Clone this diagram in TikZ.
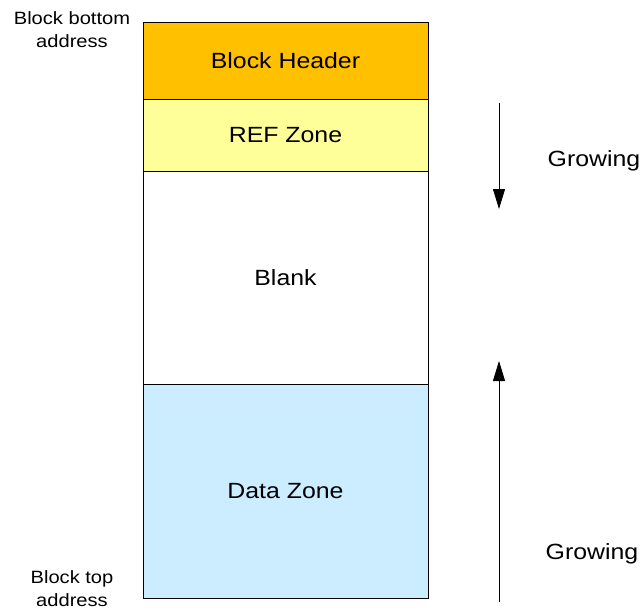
\documentclass[tikz,border=0pt]{standalone}
\usepackage{fontspec}
\setmainfont{Liberation Sans}[FakeStretch=1.13]
\usepackage{tikz}
\usetikzlibrary{positioning,arrows.meta}
\definecolor{hdrorange}{HTML}{FFC000}
\definecolor{refyellow}{HTML}{FFFF99}
\definecolor{datablue}{HTML}{CCECFF}

\begin{document}
\begin{tikzpicture}[x=1pt, y=1pt, line width=0.8pt,
    zone/.style={draw, rectangle, minimum width=285pt, inner sep=0pt, outer sep=0pt, font=\fontsize{22}{26}\selectfont},
    note/.style={align=center, font=\fontsize{17.8}{23}\selectfont},
    growarrow/.style={-{Triangle[length=20pt, width=12pt]}, line width=0.9pt}]
    \useasboundingbox (0,0) rectangle (643,-610);
    \node[zone, fill=hdrorange, minimum height=77pt] (header) at (285.5,-60.5) {Block Header};
    \node[zone, fill=refyellow, minimum height=72pt, below=0pt of header] (ref) {REF Zone};
    \node[zone, fill=white, minimum height=213pt, below=0pt of ref] (blank) {Blank};
    \node[zone, fill=datablue, minimum height=214pt, below=0pt of blank] (data) {Data Zone};
    \node[note] (bottomaddr) at (72,-30) {Block bottom\\address};
    \node[note] (topaddr) at (72,-589) {Block top\\address};
    \node[font=\fontsize{22}{26}\selectfont] (growdown) at (594,-161) {Growing};
    \node[font=\fontsize{22}{26}\selectfont] (growup) at (592,-554) {Growing};
    \coordinate (d1) at (499,-103);
    \coordinate (d2) at (499,-209);
    \coordinate (u1) at (499,-602);
    \coordinate (u2) at (499,-361);
    \draw[growarrow] (d1) -- (d2);
    \draw[growarrow] (u1) -- (u2);
  \end{tikzpicture}
\end{document}
